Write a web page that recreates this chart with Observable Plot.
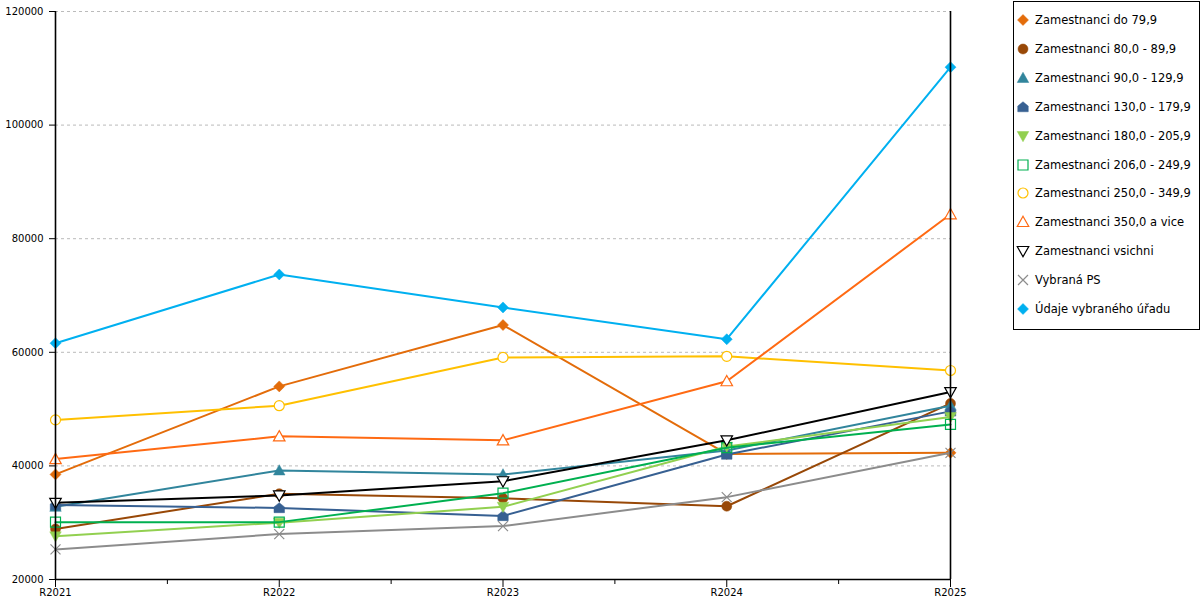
<!DOCTYPE html>
<html><head><meta charset="utf-8">
<script src="https://cdn.jsdelivr.net/npm/d3@7"></script>
<script src="https://cdn.jsdelivr.net/npm/@observablehq/plot@0.6"></script>
<style>
html,body{margin:0;padding:0;background:#fff;}
#wrap{position:relative;width:1200px;height:600px;font-family:"DejaVu Sans",sans-serif;overflow:hidden;}
#chart{position:absolute;left:0;top:0;}
#legend{position:absolute;left:1013px;top:1px;width:187px;height:329px;border:1px solid #000;box-sizing:border-box;background:#fff;}
.item{position:absolute;left:0;height:20px;display:flex;align-items:center;font-size:11.5px;white-space:nowrap;color:#000;}
.item svg{margin-left:3px;margin-right:6px;overflow:visible;}
</style></head><body>
<div id="wrap"><div id="chart"></div><div id="legend"></div></div>
<script>
// ---- data ----
const years = ["R2021", "R2022", "R2023", "R2024", "R2025"];
const seriesNames = [
  "Zamestnanci do 79,9",
  "Zamestnanci 80,0 - 89,9",
  "Zamestnanci 90,0 - 129,9",
  "Zamestnanci 130,0 - 179,9",
  "Zamestnanci 180,0 - 205,9",
  "Zamestnanci 206,0 - 249,9",
  "Zamestnanci 250,0 - 349,9",
  "Zamestnanci 350,0 a vice",
  "Zamestnanci vsichni",
  "Vybraná PS",
  "Údaje vybraného úřadu"
];
const do79   = [38500, 54000, 64800, 42100, 42300];
const z80    = [28900, 35100, 34300, 32900, 51000];
const z90    = [32800, 39200, 38500, 42700, 50600];
const z130   = [33100, 32600, 31200, 42000, 49600];
const z180   = [27600, 30000, 32800, 43400, 48600];
const z206   = [30100, 30100, 35200, 43200, 47300];
const z250   = [48100, 50600, 59100, 59300, 56800];
const z350   = [41200, 45200, 44500, 54900, 84300];
const vsichni= [33500, 34800, 37300, 44500, 53000];
const ps     = [25300, 28000, 29400, 34500, 42300];
const urad   = [61600, 73700, 67900, 62300, 110200];
const yTicks = [20000, 40000, 60000, 80000, 100000, 120000];

const seriesValues = [do79, z80, z90, z130, z180, z206, z250, z350, vsichni, ps, urad];

// ---- styles ----
const colors = ["#e36c0a", "#984807", "#31859c", "#376092", "#92d050", "#00b050", "#ffc000", "#ff6a13", "#000000", "#8c8c8c", "#00b0f0"];

function poly(pts) {
  return {draw(ctx, size) {
    const h = Math.sqrt(size / Math.PI);
    pts.forEach(([a, b], i) => i ? ctx.lineTo(a * h, b * h) : ctx.moveTo(a * h, b * h));
    ctx.closePath();
  }};
}
const symDiamond = poly([[0,-1.1],[1.1,0],[0,1.1],[-1.1,0]]);
const symCircle = {draw(ctx, size){ const r = Math.sqrt(size/Math.PI); ctx.moveTo(r,0); ctx.arc(0,0,r,0,2*Math.PI); }};
const symTriUp = poly([[0,-1.15],[1.15,0.9],[-1.15,0.9]]);
const symHouse = poly([[0,-1.05],[1.05,-0.2],[1.05,0.95],[-1.05,0.95],[-1.05,-0.2]]);
const symTriDown = poly([[-1.15,-0.9],[1.15,-0.9],[0,1.15]]);
const symSquare = poly([[-1,-1],[1,-1],[1,1],[-1,1]]);
const symTimes = {draw(ctx, size){ const h = Math.sqrt(size/Math.PI); ctx.moveTo(-h,-h); ctx.lineTo(h,h); ctx.moveTo(-h,h); ctx.lineTo(h,-h); }};

const symbols = [symDiamond, symCircle, symTriUp, symHouse, symTriDown, symSquare, symCircle, symTriUp, symTriDown, symTimes, symDiamond];
const filled  = [true, true, true, true, true, false, false, false, false, false, true];
const fills   = filled.map((f, i) => f ? colors[i] : (symbols[i] === symSquare ? "none" : (symbols[i] === symTimes ? "none" : "white")));

// ---- table ----
const series = seriesNames.map((name, k) => ({
  name, color: colors[k], symbol: symbols[k], fill: fills[k], filled: filled[k],
  data: seriesValues[k].map((v, i) => ({i, year: years[i], v}))
}));

const seriesMarks = series.flatMap(s => [
  Plot.line(s.data, {x: "i", y: "v", stroke: s.color, strokeWidth: 2}),
  Plot.dot(s.data, {x: "i", y: "v", symbol: s.symbol, r: 5,
    fill: s.fill, stroke: s.color, strokeWidth: s.filled ? 0.5 : 1.2})
]);

const chart = Plot.plot({
  width: 1010,
  height: 600,
  marginLeft: 55,
  marginRight: 60,
  marginTop: 11,
  marginBottom: 21,
  style: {fontFamily: "DejaVu Sans", fontSize: "10px", color: "#000", background: "transparent", overflow: "visible"},
  x: {domain: [0, years.length - 1]},
  y: {domain: [yTicks[0], yTicks[yTicks.length - 1]]},
  marks: [
    Plot.gridY(yTicks.slice(1), {stroke: "#bbb", strokeOpacity: 1, strokeDasharray: "3,3"}),
    Plot.axisY(yTicks, {tickSize: 6, tickPadding: 6, tickFormat: d3.format("d"), label: null, stroke: "#000", fill: "#000"}),
    Plot.axisX(d3.range(years.length), {tickSize: 8, tickPadding: 1, tickFormat: i => years[i], label: null, stroke: "#000", fill: "#000"}),
    Plot.axisX(d3.range(years.length - 1).map(i => i + 0.5), {tickSize: 5, tickFormat: () => "", label: null, stroke: "#000"}),
    ...seriesMarks,
    Plot.ruleX([0, years.length - 1], {y1: yTicks[0], y2: yTicks[yTicks.length - 1], stroke: "#000", strokeWidth: 1.6}),
    Plot.ruleY([yTicks[0]], {x1: 0, x2: years.length - 1, stroke: "#000", strokeWidth: 1.6})
  ]
});
document.getElementById("chart").appendChild(chart);

// ---- legend ----
const legend = document.getElementById("legend");
series.forEach((s, k) => {
  const item = document.createElement("div");
  item.className = "item";
  item.style.top = (20 + k * 28.9 - 10 - 2) + "px";
  const path = d3.symbol().type(s.symbol).size(Math.PI * 25)();
  item.innerHTML = `<svg width="12" height="12" viewBox="-6 -6 12 12"><path d="${path}" fill="${s.fill}" stroke="${s.color}" stroke-width="${s.filled ? 0.5 : 1.2}"></path></svg><span>${s.name}</span>`;
  legend.appendChild(item);
});
</script>
</body></html>
